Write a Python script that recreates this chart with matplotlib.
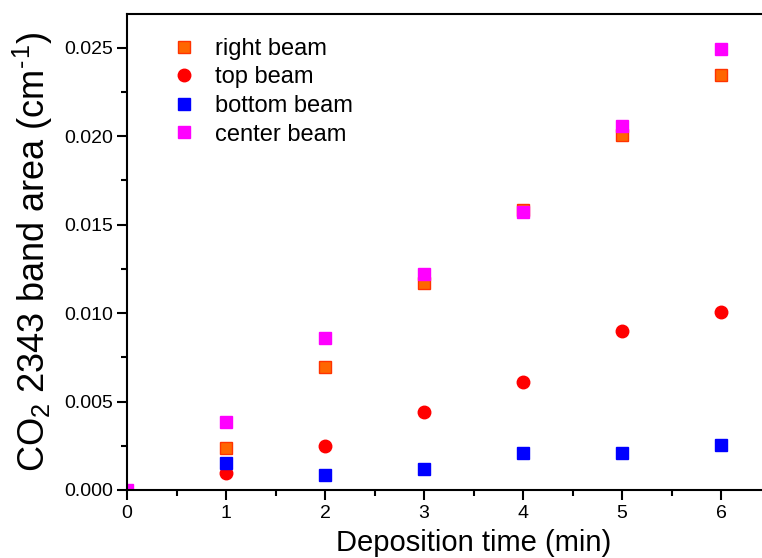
import matplotlib
matplotlib.use("Agg")
import matplotlib.pyplot as plt
from matplotlib.ticker import MultipleLocator, FormatStrFormatter, FixedLocator

plt.rcParams['font.family'] = ['Liberation Sans', 'DejaVu Sans']
plt.rcParams['mathtext.fontset'] = 'custom'
plt.rcParams['mathtext.rm'] = 'Liberation Sans'
plt.rcParams['mathtext.it'] = 'Liberation Sans'

time_right = [1, 2, 3, 4, 5, 6]
right_beam = [0.00237, 0.00694, 0.01172, 0.01585, 0.02005, 0.02344]
time_top = [1, 2, 3, 4, 5, 6]
top_beam = [0.00098, 0.00249, 0.00441, 0.00611, 0.00899, 0.01007]
time_bottom = [1, 2, 3, 4, 5, 6]
bottom_beam = [0.00151, 0.00085, 0.00119, 0.00208, 0.00211, 0.00253]
time_center = [0, 1, 2, 3, 4, 5, 6]
center_beam = [0.0, 0.00386, 0.00861, 0.0122, 0.01572, 0.02055, 0.02494]
x_ticks = [0, 1, 2, 3, 4, 5, 6]

fig = plt.figure(figsize=(7.62, 5.58), dpi=100)
ax = fig.add_axes([127/762, 68/558, 693/762, 476/558])

ax.plot(time_right, right_beam, ls='none', marker='s', ms=8,
        mfc='#FF6600', mec='#FF3300', mew=1, label='right beam')
ax.plot(time_top, top_beam, ls='none', marker='o', ms=9,
        mfc='#FF0000', mec='#FF0000', label='top beam')
ax.plot(time_bottom, bottom_beam, ls='none', marker='s', ms=8,
        mfc='#0000FF', mec='#0000FF', label='bottom beam')
ax.plot(time_center, center_beam, ls='none', marker='s', ms=8,
        mfc='#FF00FF', mec='#FF00FF', label='center beam')

ax.set_xlim(0, 7)
ax.set_ylim(0, 0.0269)
ax.xaxis.set_major_locator(FixedLocator(x_ticks))
ax.xaxis.set_minor_locator(FixedLocator([t + 0.5 for t in x_ticks]))
ax.yaxis.set_major_locator(MultipleLocator(0.005))
ax.yaxis.set_minor_locator(MultipleLocator(0.0025))
ax.yaxis.set_major_formatter(FormatStrFormatter('%.3f'))

for s in ax.spines.values():
    s.set_linewidth(1.5)
ax.tick_params(which='major', direction='out', length=7, width=1.5, labelsize=14)
ax.tick_params(which='minor', direction='out', length=4, width=1.5)
ax.tick_params(axis='x', pad=4)
ax.tick_params(axis='y', pad=3)

ax.set_xlabel('Deposition time (min)', fontsize=21, labelpad=5)
ax.set_ylabel('CO$_2$ 2343 band area (cm$^{\u2010}$$^{1}$)', fontsize=26, labelpad=7)

leg = ax.legend(loc='upper left', bbox_to_anchor=(0.065, 0.95), frameon=False,
                prop={'size': 17}, handlelength=1.0, handletextpad=0.8,
                labelspacing=0.28, borderaxespad=0, borderpad=0)

fig.savefig('out.png', dpi=100)
